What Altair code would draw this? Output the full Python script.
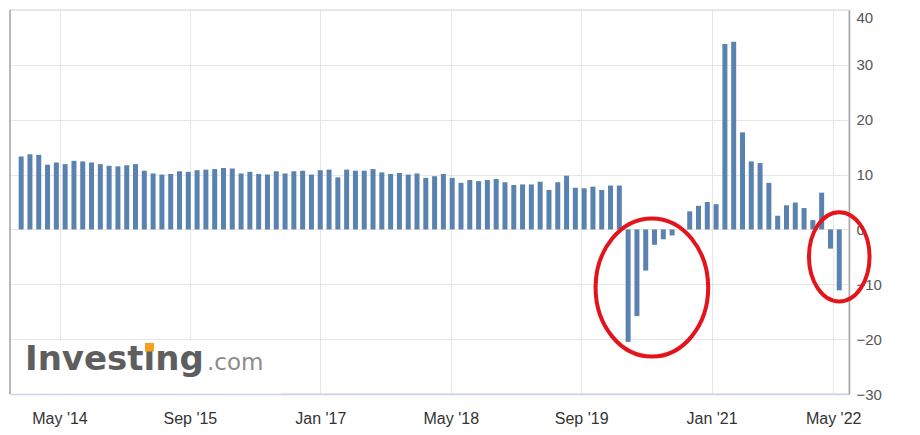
import json
import altair as alt
import pandas as pd

# Data month of each bar (Jan and Feb are reported together) and the YoY value (%)
PERIODS = [
    "Oct 13", "Nov 13", "Dec 13",
    "Jan-Feb 14", "Mar 14", "Apr 14", "May 14", "Jun 14", "Jul 14", "Aug 14", "Sep 14", "Oct 14", "Nov 14", "Dec 14",
    "Jan-Feb 15", "Mar 15", "Apr 15", "May 15", "Jun 15", "Jul 15", "Aug 15", "Sep 15", "Oct 15", "Nov 15", "Dec 15",
    "Jan-Feb 16", "Mar 16", "Apr 16", "May 16", "Jun 16", "Jul 16", "Aug 16", "Sep 16", "Oct 16", "Nov 16", "Dec 16",
    "Jan-Feb 17", "Mar 17", "Apr 17", "May 17", "Jun 17", "Jul 17", "Aug 17", "Sep 17", "Oct 17", "Nov 17", "Dec 17",
    "Jan-Feb 18", "Mar 18", "Apr 18", "May 18", "Jun 18", "Jul 18", "Aug 18", "Sep 18", "Oct 18", "Nov 18", "Dec 18",
    "Jan-Feb 19", "Mar 19", "Apr 19", "May 19", "Jun 19", "Jul 19", "Aug 19", "Sep 19", "Oct 19", "Nov 19", "Dec 19",
    "Jan-Feb 20", "Mar 20", "Apr 20", "May 20", "Jun 20", "Jul 20", "Aug 20", "Sep 20", "Oct 20", "Nov 20", "Dec 20",
    "Jan-Feb 21", "Mar 21", "Apr 21", "May 21", "Jun 21", "Jul 21", "Aug 21", "Sep 21", "Oct 21", "Nov 21", "Dec 21",
    "Jan-Feb 22", "Mar 22", "Apr 22",
]
VALUES = [
    13.3, 13.7, 13.6,
    11.8, 12.2, 11.9, 12.5, 12.4, 12.2, 11.9, 11.6, 11.5, 11.7, 11.9,
    10.7, 10.2, 10.0, 10.1, 10.6, 10.5, 10.8, 10.9, 11.0, 11.2, 11.1,
    10.2, 10.5, 10.1, 10.0, 10.6, 10.2, 10.6, 10.7, 10.0, 10.8, 10.9,
    9.5, 10.9, 10.7, 10.7, 11.0, 10.4, 10.1, 10.3, 10.0, 10.2, 9.4,
    9.7, 10.1, 9.4, 8.5, 9.0, 8.8, 9.0, 9.2, 8.6, 8.1, 8.2,
    8.2, 8.7, 7.2, 8.6, 9.8, 7.6, 7.5, 7.8, 7.2, 8.0, 8.0,
    -20.5, -15.8, -7.5, -2.8, -1.8, -1.1, 0.0, 3.3, 4.3, 5.0, 4.6,
    33.8, 34.2, 17.7, 12.4, 12.1, 8.5, 2.5, 4.4, 4.9, 3.9, 1.7,
    6.7, -3.5, -11.1,
]

# x axis (bars are equally spaced, one slot per release)
TICK_POS = [4.36, 19.18, 34.01, 48.84, 63.66, 78.49, 92.31]
TICK_LABELS = ["May '14", "Sep '15", "Jan '17", "May '18", "Sep '19", "Jan '21", "May '22"]
X_DOMAIN = [-0.70, 93.54]

# y axis
Y_TICKS = [-30, -20, -10, 0, 10, 20, 30, 40]
Y_DOMAIN = [-30, 40]

# red circled annotations (centre in data units)
ELLIPSE_X = [71.7, 93.0]
ELLIPSE_Y = [-10.6, -5.0]

BAR_COLOR = "#5a82b0"
RED = "#e3141b"
FONT = "Liberation Sans"

W, H = 839, 384

df = pd.DataFrame({"idx": list(range(len(VALUES))), "period": PERIODS, "value": VALUES})

label_expr = "{}[indexof({}, datum.value)]".format(json.dumps(TICK_LABELS), json.dumps(TICK_POS))

x_scale = alt.Scale(domain=X_DOMAIN, nice=False, zero=False)
y_scale = alt.Scale(domain=Y_DOMAIN, nice=False, zero=False)

x_axis = alt.Axis(
    values=TICK_POS, labelExpr=label_expr, title=None, grid=True, gridColor="#e6e6e6",
    gridWidth=1, ticks=False, tickSize=0, labelPadding=16, labelFontSize=16,
    labelFont=FONT, labelColor="#333333", domainColor="#ccd6eb", domainWidth=1.5,
    labelFlush=False, labelOverlap=False,
)
y_axis = alt.Axis(
    orient="right", values=Y_TICKS, title=None, grid=True, gridColor="#e6e6e6",
    gridWidth=1, ticks=False, tickSize=0, labelPadding=7, labelFontSize=15,
    labelFont=FONT, labelColor="#555555", domainColor="#a8a8a8", domainWidth=1.5,
    labelFlush=False,
    labelOffset={"condition": {"test": "datum.value == 40", "value": 7}, "value": 0},
)

bars = alt.Chart(df).mark_bar(size=5, color=BAR_COLOR, orient="vertical").encode(
    x=alt.X("idx:Q", scale=x_scale, axis=x_axis),
    y=alt.Y("value:Q", scale=y_scale, axis=y_axis),
    tooltip=["period", "value"],
)

one = pd.DataFrame({"a": [0]})

left_border = alt.Chart(one).mark_rule(color="#a8a8a8", strokeWidth=1.5).encode(
    x=alt.value(0), y=alt.value(0), y2=alt.value(H)
)

logo_box = alt.Chart(one).mark_rect(color="white").encode(
    x=alt.value(1), x2=alt.value(272), y=alt.value(331), y2=alt.value(H - 0.5)
)
logo_main = alt.Chart(one).mark_text(
    font="DejaVu Sans", fontWeight="bold", fontSize=34, color="#5e5e5e",
    align="left", baseline="alphabetic",
).encode(x=alt.value(15), y=alt.value(360), text=alt.value("Investing"))
logo_dot = alt.Chart(one).mark_rect(color="#f5a01e").encode(
    x=alt.value(135), x2=alt.value(144), y=alt.value(333), y2=alt.value(341.5)
)
logo_com = alt.Chart(one).mark_text(
    font="DejaVu Sans", fontSize=23, color="#8c8c8c",
    align="left", baseline="alphabetic",
).encode(x=alt.value(197), y=alt.value(360), text=alt.value(".com"))

ell_df = pd.DataFrame({"idx": ELLIPSE_X, "value": ELLIPSE_Y})

ell1 = alt.Chart(ell_df.iloc[[0]]).mark_point(
    shape="M -0.816 0 A 0.816 1 0 1 1 0.816 0 A 0.816 1 0 1 1 -0.816 0 Z",
    size=19044, filled=False, stroke=RED, strokeWidth=4, opacity=1, clip=False,
).encode(
    x=alt.X("idx:Q", scale=x_scale, axis=x_axis),
    y=alt.Y("value:Q", scale=y_scale, axis=y_axis),
)
ell2 = alt.Chart(ell_df.iloc[[1]]).mark_point(
    shape="M -0.678 0 A 0.678 1 0 1 1 0.678 0 A 0.678 1 0 1 1 -0.678 0 Z",
    size=7992, filled=False, stroke=RED, strokeWidth=4, opacity=1, clip=False,
).encode(
    x=alt.X("idx:Q", scale=x_scale, axis=x_axis),
    y=alt.Y("value:Q", scale=y_scale, axis=y_axis),
)

chart = alt.layer(
    bars, logo_box, logo_main, logo_dot, logo_com, left_border, ell1, ell2
).properties(
    width=W, height=H,
    padding={"left": 2, "top": 2, "right": 45, "bottom": 36},
    autosize=alt.AutoSizeParams(type="none"),
    background="white",
).configure_view(
    stroke="#e0e0e0", strokeWidth=1.5
)

chart.save("out.html", embed_options={"renderer": "svg", "actions": False})
